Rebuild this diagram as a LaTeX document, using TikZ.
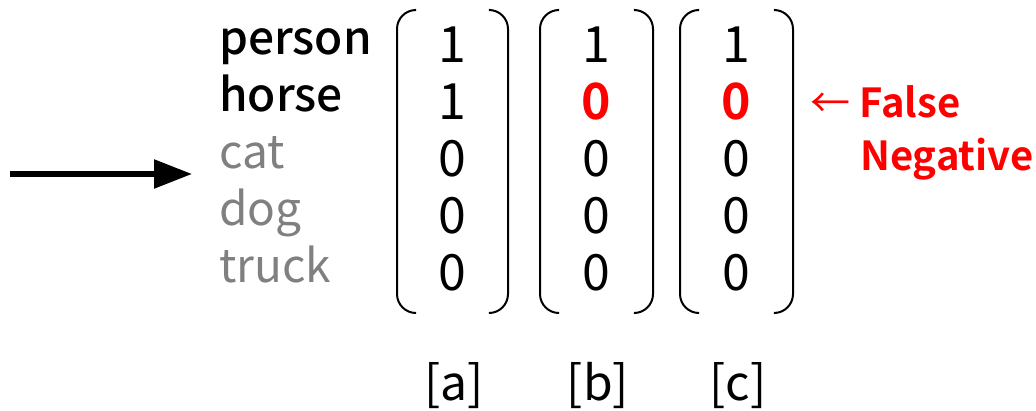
\documentclass[tikz,border=0pt]{standalone}
\usepackage{fontspec}
\setmainfont{Noto Sans CJK KR}[BoldFont={Noto Sans CJK KR Medium}]
\newfontfamily\heavyfont{Noto Sans CJK KR Bold}
\usetikzlibrary{arrows.meta}
\definecolor{labgray}{HTML}{808080}
\definecolor{fnred}{HTML}{FF0000}
\begin{document}
\begin{tikzpicture}[x=1pt,y=-1pt,
  lab/.style={anchor=base west,inner sep=0pt,font=\fontsize{46}{46}\selectfont},
  poslab/.style={lab,font=\fontsize{46}{46}\selectfont\bfseries},
  neglab/.style={lab,text=labgray},
  digit/.style={anchor=base,inner sep=0pt,font=\fontsize{50}{50}\selectfont},
  flip/.style={digit,text=fnred,font=\fontsize{50}{50}\selectfont\heavyfont},
  tag/.style={anchor=base,inner sep=0pt,font=\fontsize{48}{48}\selectfont},
  note/.style={anchor=base west,inner sep=0pt,text=fnred,font=\fontsize{40}{40}\selectfont\heavyfont},
  paren/.style={line width=2pt,rounded corners=19pt}]
\useasboundingbox (0,0) rectangle (1036,411);

% input arrow
\coordinate (src) at (10,174);
\coordinate (tip) at (192,174);
\draw[line width=5.5pt,-{Triangle[length=38pt,width=28pt]}] (src) -- (tip);

% class names
\node[poslab] (person) at (219,55) {person};
\node[poslab] (horse)  at (219,112) {horse};
\node[neglab] (cat)    at (219,169) {cat};
\node[neglab] (dog)    at (219,226) {dog};
\node[neglab] (truck)  at (219,283) {truck};

% label vectors
\foreach \v/\cx/\l/\r in {a/452/397/508, b/596/540/653, c/736/680/793}{
  \draw[paren] (\l+18,10) -| (\l,313) -- (\l+18,313);
  \draw[paren] (\r-18,10) -| (\r,313) -- (\r-18,313);
  \node[tag] (tag-\v) at (\cx+2,400) {[\v]};
}
\node[digit] (a1) at (452,63) {1};
\node[digit] (a2) at (452,120) {1};
\node[digit] (a3) at (452,177) {0};
\node[digit] (a4) at (452,234) {0};
\node[digit] (a5) at (452,291) {0};

\node[digit] (b1) at (596,63) {1};
\node[flip]  (b2) at (596,120) {0};
\node[digit] (b3) at (596,177) {0};
\node[digit] (b4) at (596,234) {0};
\node[digit] (b5) at (596,291) {0};

\node[digit] (c1) at (736,63) {1};
\node[flip]  (c2) at (736,120) {0};
\node[digit] (c3) at (736,177) {0};
\node[digit] (c4) at (736,234) {0};
\node[digit] (c5) at (736,291) {0};

% annotation
\node[note] (fn1) at (810,118) {{\normalfont\fontsize{40}{40}\selectfont ←} False};
\node[note] (fn2) at (860,171) {Negative};
\end{tikzpicture}
\end{document}
